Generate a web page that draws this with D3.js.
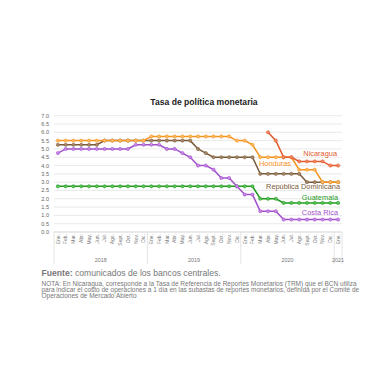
<!DOCTYPE html>
<html>
<head>
<meta charset="utf-8">
<script src="https://cdn.jsdelivr.net/npm/d3@7"></script>
<style>
  body { margin: 0; background: #fff; }
  svg { font-family: "Liberation Sans", Arial, sans-serif; }
</style>
</head>
<body>
<svg id="chart" width="380" height="380"></svg>
<script>
// meses y años del eje x
var months = ["Ene.", "Feb.", "Mar.", "Abr.", "May.", "Jun.", "Jul.", "Ago.", "Sept.", "Oct.", "Nov.", "Dic."];
var years = ["2018", "2019", "2020", "2021"];
var monthsPerYear = [12, 12, 12, 1];
var yTicks = [0, 0.5, 1, 1.5, 2, 2.5, 3, 3.5, 4, 4.5, 5, 5.5, 6, 6.5, 7];

// tasas (%), ene 2018 .. ene 2021
var honduras = [5.5, 5.5, 5.5, 5.5, 5.5, 5.5, 5.5, 5.5, 5.5, 5.5, 5.5, 5.5,
  5.75, 5.75, 5.75, 5.75, 5.75, 5.75, 5.75, 5.75, 5.75, 5.75, 5.75, 5.5,
  5.5, 5.25, 4.5, 4.5, 4.5, 4.5, 4.5, 3.75, 3.75, 3.75, 3.0, 3.0,
  3.0];
var repDominicana = [5.25, 5.25, 5.25, 5.25, 5.25, 5.25, 5.5, 5.5, 5.5, 5.5, 5.5, 5.5,
  5.5, 5.5, 5.5, 5.5, 5.5, 5.5, 5.0, 4.75, 4.5, 4.5, 4.5, 4.5,
  4.5, 4.5, 3.5, 3.5, 3.5, 3.5, 3.5, 3.5, 3.0, 3.0, 3.0, 3.0,
  3.0];
var costaRica = [4.75, 5.0, 5.0, 5.0, 5.0, 5.0, 5.0, 5.0, 5.0, 5.0, 5.25, 5.25,
  5.25, 5.25, 5.0, 5.0, 4.75, 4.5, 4.0, 4.0, 3.75, 3.25, 3.25, 2.75,
  2.25, 2.25, 1.25, 1.25, 1.25, 0.75, 0.75, 0.75, 0.75, 0.75, 0.75, 0.75,
  0.75];
var guatemala = [2.75, 2.75, 2.75, 2.75, 2.75, 2.75, 2.75, 2.75, 2.75, 2.75, 2.75, 2.75,
  2.75, 2.75, 2.75, 2.75, 2.75, 2.75, 2.75, 2.75, 2.75, 2.75, 2.75, 2.75,
  2.75, 2.75, 2.0, 2.0, 2.0, 1.75, 1.75, 1.75, 1.75, 1.75, 1.75, 1.75,
  1.75];
var nicaragua = [null, null, null, null, null, null, null, null, null, null, null, null,
  null, null, null, null, null, null, null, null, null, null, null, null,
  null, null, null, 6.0, 5.5, 4.5, 4.5, 4.25, 4.25, 4.25, 4.25, 4.0,
  4.0];

var series = [
  { name: "Guatemala", values: guatemala, color: "#1f9a1f", fill: "#5fc45f", lx: 338, ly: 1.95, anchor: "end" },
  { name: "Costa Rica", values: costaRica, color: "#a24fcc", fill: "#c68be3", lx: 338, ly: 1.02, anchor: "end" },
  { name: "República Dominicana", values: repDominicana, color: "#7a5a3a", fill: "#a88a6a", lx: 340, ly: 2.58, anchor: "end" },
  { name: "Honduras", values: honduras, color: "#f7931e", fill: "#fbbd6a", lx: 275, ly: 4.0, anchor: "middle" },
  { name: "Nicaragua", values: nicaragua, color: "#e2582b", fill: "#ee8a66", lx: 337, ly: 4.6, anchor: "end" }
];

var categories = [];
years.forEach(function(yr, i) {
  for (var m = 0; m < monthsPerYear[i]; m++) categories.push(yr + "-" + months[m]);
});

(function() {
  var plotL = 54, plotR = 342, plotT = 115.7, plotB = 232;
  var svg = d3.select("#chart");

  var x = d3.scaleBand().domain(categories).range([plotL, plotR]);
  var y = d3.scaleLinear().domain([0, 7]).range([plotB, plotT]);

  svg.append("text")
    .attr("x", 204).attr("y", 104.5)
    .attr("text-anchor", "middle")
    .attr("font-size", 8.6).attr("font-weight", "bold").attr("fill", "#222")
    .text("Tasa de política monetaria");

  // grid
  svg.append("g").selectAll("line")
    .data(yTicks)
    .enter().append("line")
    .attr("x1", plotL).attr("x2", plotR)
    .attr("y1", function(d) { return y(d); })
    .attr("y2", function(d) { return y(d); })
    .attr("stroke", function(d) { return d === 0 ? "#c8c8c8" : "#e3e3e3"; })
    .attr("stroke-width", 0.8);

  svg.append("g").selectAll("text")
    .data(yTicks)
    .enter().append("text")
    .attr("x", 49).attr("y", function(d) { return y(d) + 2; })
    .attr("text-anchor", "end")
    .attr("font-size", 5.6).attr("fill", "#666")
    .text(function(d) { return d.toFixed(1); });

  // month labels
  svg.append("g").selectAll("text")
    .data(categories)
    .enter().append("text")
    .attr("transform", function(d) {
      return "translate(" + (x(d) + x.bandwidth() / 2 + 1.8) + "," + (plotB + 2) + ") rotate(-90)";
    })
    .attr("text-anchor", "end")
    .attr("font-size", 5.0).attr("fill", "#777")
    .text(function(d) { return d.split("-")[1]; });

  // year groups
  var start = 0;
  var yearPos = years.map(function(yr, i) {
    var s = start;
    start += monthsPerYear[i];
    return { year: yr, x0: x(categories[s]), x1: x(categories[start - 1]) + x.bandwidth() };
  });

  svg.append("g").selectAll("line")
    .data(yearPos)
    .enter().append("line")
    .attr("x1", function(d) { return d.x0; }).attr("x2", function(d) { return d.x0; })
    .attr("y1", plotB).attr("y2", 264)
    .attr("stroke", "#ddd").attr("stroke-width", 0.8);

  svg.append("line")
    .attr("x1", plotR).attr("x2", plotR)
    .attr("y1", plotB).attr("y2", 264)
    .attr("stroke", "#ddd").attr("stroke-width", 0.8);

  svg.append("g").selectAll("text")
    .data(yearPos)
    .enter().append("text")
    .attr("x", function(d) { return (d.x0 + d.x1) / 2; })
    .attr("y", 261.5)
    .attr("text-anchor", "middle")
    .attr("font-size", 5.4).attr("fill", "#777")
    .text(function(d) { return d.year; });

  // lines
  var line = d3.line()
    .defined(function(d) { return d != null; })
    .x(function(d, i) { return x(categories[i]) + x.bandwidth() / 2; })
    .y(function(d) { return y(d); });

  series.forEach(function(s) {
    var g = svg.append("g");
    g.append("path")
      .attr("d", line(s.values))
      .attr("fill", "none")
      .attr("stroke", s.color)
      .attr("stroke-width", 1.5);

    g.selectAll("circle")
      .data(s.values.map(function(v, i) { return { v: v, c: categories[i] }; })
        .filter(function(d) { return d.v != null; }))
      .enter().append("circle")
      .attr("cx", function(d) { return x(d.c) + x.bandwidth() / 2; })
      .attr("cy", function(d) { return y(d.v); })
      .attr("r", 1.6)
      .attr("fill", s.fill)
      .attr("stroke", s.color)
      .attr("stroke-width", 0.6);

    svg.append("text")
      .attr("x", s.lx).attr("y", y(s.ly))
      .attr("text-anchor", s.anchor)
      .attr("font-size", 7.4).attr("fill", s.color)
      .text(s.name);
  });

  // footer
  var foot = svg.append("text")
    .attr("x", 41.5).attr("y", 276)
    .attr("font-size", 8.6).attr("fill", "#777");
  foot.append("tspan").attr("font-weight", "bold").text("Fuente:");
  foot.append("tspan").text(" comunicados de los bancos centrales.");

  var nota = [
    "NOTA: En Nicaragua, corresponde a la Tasa de Referencia de Reportes Monetarios (TRM) que el BCN utiliza",
    "para indicar el costo de operaciones a 1 día en las subastas de reportes monetarios, definida por el Comité de",
    "Operaciones de Mercado Abierto"
  ];
  svg.append("g").selectAll("text")
    .data(nota)
    .enter().append("text")
    .attr("x", 41.5).attr("y", function(d, i) { return 285.5 + i * 6.1; })
    .attr("font-size", 6.5).attr("fill", "#777")
    .text(function(d) { return d; });
})();
</script>
</body>
</html>
